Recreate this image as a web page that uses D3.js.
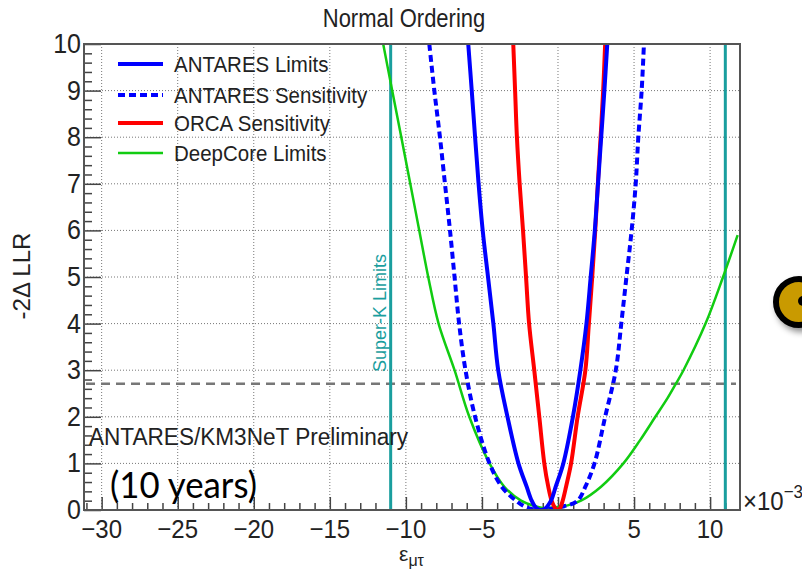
<!DOCTYPE html>
<meta charset="utf-8">
<script src="https://d3js.org/d3.v7.min.js"></script>
<style>
  body { margin: 0; background: #fff; }
  svg { font-family: "Liberation Sans", Arial, sans-serif; }
</style>
<div id="my_dataviz"></div>
<script>

// curves: [epsilon_mutau (x 1e-3), -2 Delta LLR]
var antaresLimits = [[-5.90,10],[-5.67,9],[-5.45,8],[-5.22,7],[-4.95,6],[-4.6,5],[-4.25,4],[-3.93,3],[-3.32,2],[-2.6,1],[-2.06,0.5],[-1.73,0.2],[-1.45,0.05],[-1.15,0],[-0.85,0.03],[-0.46,0.2],[-0.15,0.5],[0.35,1],[0.98,2],[1.47,3],[1.87,4],[2.15,5],[2.42,6],[2.63,7],[2.84,8],[3.05,9],[3.24,10]];
var antaresSens = [[-8.46,10],[-8.13,9],[-7.76,8],[-7.43,7],[-7.1,6],[-6.8,5],[-6.5,4],[-6.08,3],[-5.45,2],[-4.5,1],[-3.7,0.5],[-2.76,0.2],[-2.1,0.06],[-1.4,0],[-0.6,0.02],[0.4,0.08],[1.29,0.2],[1.8,0.5],[2.4,1],[3.1,2],[3.8,3],[4.16,4],[4.5,5],[4.84,6],[5.11,7],[5.28,8],[5.5,9],[5.65,10]];
var orcaSens = [[-2.94,10],[-2.82,9],[-2.7,8],[-2.52,7],[-2.3,6],[-2.1,5],[-1.9,4],[-1.56,3],[-1.23,2],[-0.9,1],[-0.64,0.5],[-0.42,0.2],[-0.2,0.05],[0.0,0],[0.15,0.05],[0.31,0.2],[0.53,0.5],[0.86,1],[1.29,2],[1.8,3],[2.03,4],[2.25,5],[2.45,6],[2.62,7],[2.8,8],[2.97,9],[3.1,10]];
var deepCore = [[-11.49,10],[-10.9,9],[-10.3,8],[-9.71,7],[-9.12,6],[-8.53,5],[-7.85,4],[-6.8,3],[-5.83,2],[-4.5,1],[-3.53,0.5],[-2.43,0.2],[-1.5,0.08],[-0.9,0.04],[-0.2,0.06],[0.64,0.1],[1.51,0.2],[2.83,0.5],[4.3,1],[5.4,1.5],[6.4,2],[7.2,2.4],[7.75,2.71],[8.25,3],[9.7,4],[10.85,5],[11.81,5.9]];

var superK = [-11, 11];
var cl90 = 2.71;

var xTicks = [-30, -25, -20, -15, -10, -5, 0, 5, 10];
var xLabels = ["\u221230", "\u221225", "\u221220", "\u221215", "\u221210", "\u22125", "", "5", "10"];
var yTicks = [0, 1, 2, 3, 4, 5, 6, 7, 8, 9, 10];

var legendNames = ["ANTARES Limits", "ANTARES Sensitivity", "ORCA Sensitivity", "DeepCore Limits"];

// frame (ROOT pad)
var pad = {left: 84, right: 740, top: 44, bottom: 510};

var svg = d3.select("#my_dataviz")
  .append("svg")
    .attr("width", 802)
    .attr("height", 571);

svg.append("rect").attr("width", 802).attr("height", 571).attr("fill", "#fff");

var defs = svg.append("defs");
defs.append("clipPath").attr("id", "plotclip")
  .append("rect").attr("x", pad.left).attr("y", pad.top).attr("width", pad.right - pad.left).attr("height", pad.bottom - pad.top);
defs.append("filter").attr("id", "shadow").attr("x", "-50%").attr("y", "-50%").attr("width", "200%").attr("height", "200%")
  .append("feDropShadow").attr("dx", 3).attr("dy", 4).attr("stdDeviation", 3).attr("flood-color", "#000").attr("flood-opacity", 0.45);

var x = d3.scaleLinear().domain([-31.16, 11.965]).range([pad.left, pad.right]);
var y = d3.scaleLinear().domain([0, 10]).range([pad.bottom, pad.top]);

// grid
svg.append("g").selectAll("line").data(xTicks).enter().append("line")
  .attr("x1", function(d){ return x(d) }).attr("x2", function(d){ return x(d) })
  .attr("y1", pad.top).attr("y2", pad.bottom)
  .attr("stroke", "#777").attr("stroke-width", 1).attr("stroke-dasharray", "1,2");
svg.append("g").selectAll("line").data(yTicks.slice(1, 10)).enter().append("line")
  .attr("y1", function(d){ return y(d) }).attr("y2", function(d){ return y(d) })
  .attr("x1", pad.left).attr("x2", pad.right)
  .attr("stroke", "#777").attr("stroke-width", 1).attr("stroke-dasharray", "1,2");

// axes: ROOT style ticks inside the frame
var xAxis = svg.append("g").attr("transform", "translate(0," + pad.bottom + ")")
  .call(d3.axisTop(x).tickValues(d3.range(-31, 12, 1)).tickSize(7).tickFormat(""));
xAxis.selectAll(".tick line").filter(function(d){ return d % 5 === 0 }).attr("y2", -13);
xAxis.select(".domain").remove();
xAxis.selectAll("line").attr("stroke", "#444").attr("stroke-width", 1.5);

var yAxis = svg.append("g").attr("transform", "translate(" + pad.left + ",0)")
  .call(d3.axisRight(y).tickValues(d3.range(0, 10.01, 0.2)).tickSize(8).tickFormat(""));
yAxis.selectAll(".tick line").filter(function(d){ return Math.abs(d - Math.round(d)) < 1e-6 }).attr("x2", 17);
yAxis.select(".domain").remove();
yAxis.selectAll("line").attr("stroke", "#444").attr("stroke-width", 1.5);

// tick labels (slightly tall, like the stretched original)
svg.append("g").selectAll("text").data(xTicks).enter().append("text")
  .attr("transform", function(d){ return "translate(" + x(d) + ",538) scale(1,1.08)" })
  .attr("text-anchor", "middle").attr("font-size", 24).attr("fill", "#222")
  .text(function(d, i){ return xLabels[i] });
svg.append("g").selectAll("text").data(yTicks).enter().append("text")
  .attr("transform", function(d){ return "translate(81," + (y(d) + 9) + ") scale(1,1.08)" })
  .attr("text-anchor", "end").attr("font-size", 25).attr("fill", "#222")
  .text(function(d){ return d });

// 90% CL line
svg.append("line")
  .attr("x1", pad.left + 2).attr("x2", pad.right - 4).attr("y1", y(cl90)).attr("y2", y(cl90))
  .attr("stroke", "#777").attr("stroke-width", 2.5).attr("stroke-dasharray", "9,6");

// Super-K limits
svg.append("g").selectAll("line").data(superK).enter().append("line")
  .attr("x1", function(d){ return x(d) }).attr("x2", function(d){ return x(d) })
  .attr("y1", pad.top).attr("y2", pad.bottom)
  .attr("stroke", "#1a9e9e").attr("stroke-width", 3);
svg.append("text")
  .attr("transform", "translate(386,372) rotate(-90)")
  .attr("font-size", 18).attr("fill", "#1a9e9e")
  .text("Super-K Limits");

// curves
var line = d3.line()
  .x(function(d){ return x(d[0]) })
  .y(function(d){ return y(d[1]) })
  .curve(d3.curveCatmullRom.alpha(0.5));

var curves = svg.append("g").attr("clip-path", "url(#plotclip)");
curves.append("path").datum(deepCore).attr("d", line)
  .attr("fill", "none").attr("stroke", "#11cc11").attr("stroke-width", 2.5);
curves.append("path").datum(antaresSens).attr("d", line)
  .attr("fill", "none").attr("stroke", "#0000ff").attr("stroke-width", 4).attr("stroke-dasharray", "7,4");
curves.append("path").datum(orcaSens).attr("d", line)
  .attr("fill", "none").attr("stroke", "#ff0000").attr("stroke-width", 4);
curves.append("path").datum(antaresLimits).attr("d", line)
  .attr("fill", "none").attr("stroke", "#0000ff").attr("stroke-width", 4);

// frame
svg.append("rect")
  .attr("x", pad.left).attr("y", pad.top).attr("width", pad.right - pad.left).attr("height", pad.bottom - pad.top)
  .attr("fill", "none").attr("stroke", "#555").attr("stroke-width", 2);

// legend
var legColors = ["#0000ff", "#0000ff", "#ff0000", "#11cc11"];
var legDash = [null, "7,4", null, null];
var legWidth = [4, 4, 4, 2.5];
var legY = [64, 95, 123, 153];
var leg = svg.append("g").selectAll("g").data(legendNames).enter().append("g");
leg.append("line")
  .attr("x1", 118).attr("x2", 163)
  .attr("y1", function(d, i){ return legY[i] }).attr("y2", function(d, i){ return legY[i] })
  .attr("stroke", function(d, i){ return legColors[i] })
  .attr("stroke-width", function(d, i){ return legWidth[i] })
  .attr("stroke-dasharray", function(d, i){ return legDash[i] });
leg.append("text")
  .attr("transform", function(d, i){ return "translate(174," + (legY[i] + 8) + ") scale(1,1.12)" })
  .attr("font-size", 20.5).attr("fill", "#222")
  .text(function(d){ return d });

// titles and labels
svg.append("text").attr("transform", "translate(404,27) scale(1,1.18)").attr("text-anchor", "middle")
  .attr("font-size", 22).attr("fill", "#222").text("Normal Ordering");

svg.append("text").attr("transform", "translate(30,276) rotate(-90)")
  .attr("text-anchor", "middle").attr("font-size", 24).attr("fill", "#222")
  .text("-2\u0394 LLR");

var xl = svg.append("text").attr("x", 399).attr("y", 561).attr("font-size", 21).attr("fill", "#222");
xl.append("tspan").text("\u03b5");
xl.append("tspan").attr("font-size", 16).attr("dy", 5).text("\u03bc\u03c4");

var sc = svg.append("text").attr("transform", "translate(743,510) scale(1,1.08)").attr("font-size", 24).attr("fill", "#222");
sc.append("tspan").text("\u00d710");
sc.append("tspan").attr("font-size", 17).attr("dy", -11).text("\u22123");

svg.append("text").attr("transform", "translate(89,445) scale(1,1.06)")
  .attr("font-size", 22.6).attr("fill", "#222")
  .text("ANTARES/KM3NeT Preliminary");

svg.append("text").attr("x", 110).attr("y", 498)
  .attr("font-family", "Lato, 'Open Sans', sans-serif").attr("font-size", 37).attr("fill", "#000")
  .attr("textLength", 147).attr("lengthAdjust", "spacingAndGlyphs")
  .text("(10 years)");

// gold button at the right edge
var btn = svg.append("g").attr("filter", "url(#shadow)");
btn.append("circle").attr("cx", 799).attr("cy", 302).attr("r", 23)
  .attr("fill", "#c99a06").attr("stroke", "#000").attr("stroke-width", 6);
btn.append("circle").attr("cx", 803).attr("cy", 301).attr("r", 5).attr("fill", "#000");

</script>
